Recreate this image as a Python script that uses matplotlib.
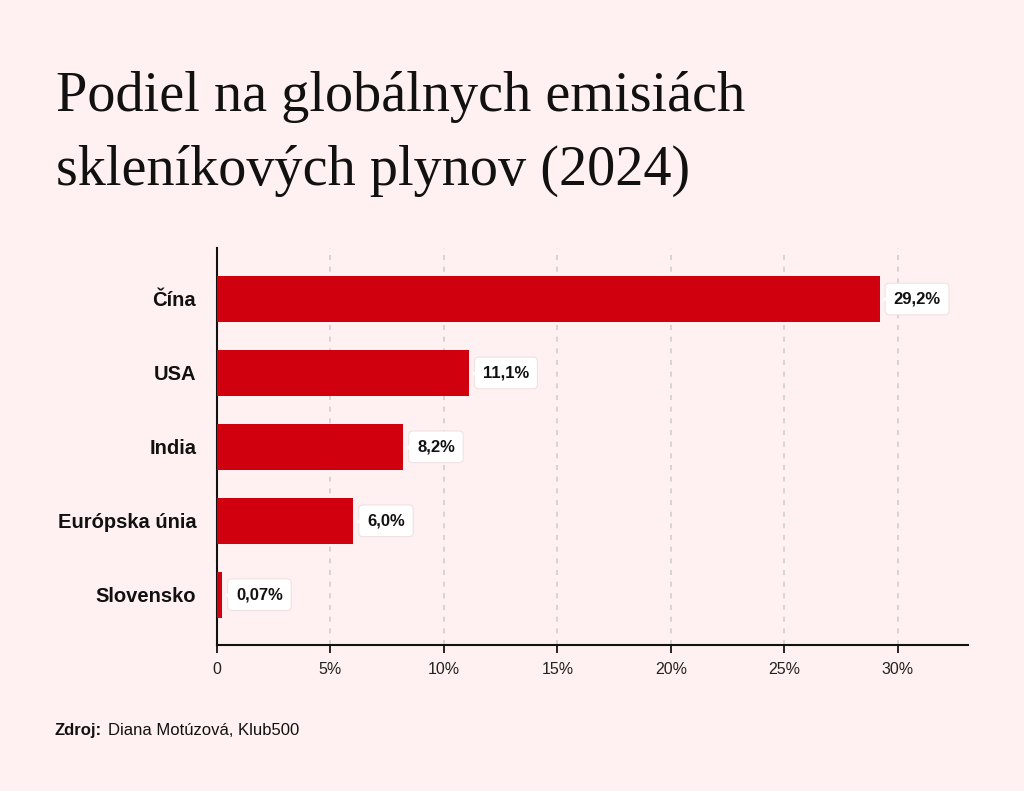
import matplotlib.pyplot as plt
from matplotlib.transforms import offset_copy

# data
countries = ["Čína", "USA", "India", "Európska únia", "Slovensko"]
shares = [29.2, 11.1, 8.2, 6.0, 0.07]
value_labels = ["29,2%", "11,1%", "8,2%", "6,0%", "0,07%"]
xticks = [0, 5, 10, 15, 20, 25, 30]
xtick_labels = ["0", "5%", "10%", "15%", "20%", "25%", "30%"]
title_lines = ["Podiel na globálnych emisiách", "skleníkových plynov (2024)"]

bg = "#fff1f1"
red = "#d1000f"
plt.rcParams['font.family'] = ['Liberation Sans', 'DejaVu Sans']

fig = plt.figure(figsize=(10.24, 7.91), dpi=100, facecolor=bg)
ax = fig.add_axes([0.2119, 0.1846, 0.7334, 0.5019])
ax.set_facecolor(bg)

ypos = list(range(len(countries)))
# tiny values get a minimum visible width, like the original
shown = [max(v, 0.22) for v in shares]
ax.barh(ypos, shown, height=0.62, color=red, zorder=3)

ax.set_xlim(0, 33.1)
ax.set_ylim(4.68, -0.69)
ax.set_yticks(ypos)
ax.set_yticklabels(countries, fontsize=14.5, fontweight='bold', color='#111111')
ax.set_xticks(xticks)
ax.set_xticklabels(xtick_labels, fontsize=11.5, color="#222222")
ax.tick_params(axis='y', length=0, pad=15)
ax.tick_params(axis='x', length=6, width=1.2, pad=6)

for x in xticks[1:]:
    ax.axvline(x, color="#cfcfcf", lw=1.2, ls=(0, (3, 4)), zorder=1)

for s in ["top", "right"]:
    ax.spines[s].set_visible(False)
for s in ["left", "bottom"]:
    ax.spines[s].set_linewidth(1.5)
    ax.spines[s].set_color("#111111")

# value labels in white callout boxes with a small pointer
for y, v, lab in zip(ypos, shown, value_labels):
    tr = offset_copy(ax.transData, fig=fig, x=8, y=0, units='dots')
    ax.plot(v, y, marker='<', ms=7, color='white', mec='white', transform=tr,
            zorder=7, clip_on=False)
    ax.annotate(lab, (v, y), xytext=(14, 0), textcoords='offset pixels',
                ha='left', va='center', fontsize=12, fontweight='bold', color='#111111',
                bbox=dict(boxstyle='round,pad=0.5,rounding_size=0.25', fc='white', ec='#f0e2e2', lw=0.8),
                zorder=6, annotation_clip=False)

serif = ['Liberation Serif', 'DejaVu Serif']
fig.text(0.055, 1 - 111 / 791, title_lines[0], fontsize=40.5, family=serif,
         color='#111111', ha='left', va='baseline')
fig.text(0.055, 1 - 185 / 791, title_lines[1], fontsize=40.5, family=serif,
         color='#111111', ha='left', va='baseline')

fig.text(0.053, 0.077, "Zdroj:", fontsize=12, fontweight='bold', ha='left', va='center', color='#111111')
fig.text(0.1055, 0.077, "Diana Motúzová, Klub500", fontsize=12, ha='left', va='center', color='#111111')

fig.savefig("out.png", dpi=100, facecolor=bg)
